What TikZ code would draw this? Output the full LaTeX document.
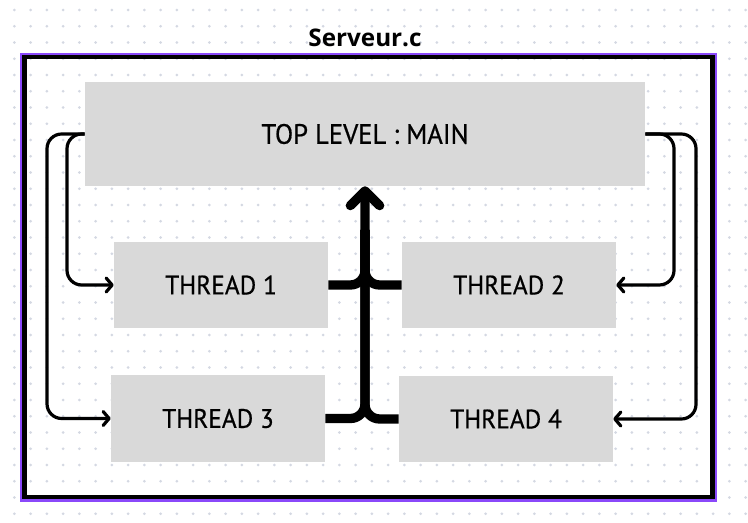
\documentclass[tikz,border=0pt]{standalone}
\usepackage{fontspec}
\setmainfont{PT Sans}[FakeBold=0.6,FakeStretch=0.95]
\newfontfamily\titlefont{Open Sans}
\usetikzlibrary{arrows.meta}

\definecolor{boxgray}{RGB}{217,217,217}
\definecolor{griddot}{RGB}{212,216,226}
\definecolor{selpurple}{RGB}{138,72,250}

\tikzset{
  box/.style={fill=boxgray,inner sep=0pt,minimum width=160.5pt,minimum height=64.5pt,
    font=\fontsize{20}{22}\selectfont},
  link/.style={line width=2.4pt,rounded corners=11pt,
    -{Straight Barb[round,length=4.5pt,width=10.5pt]}},
  bus/.style={line width=7pt,rounded corners=11pt},
}

\begin{document}
\begin{tikzpicture}[x=0.75pt,y=-0.75pt]

  \useasboundingbox (0,0) rectangle (748,523);

  % dotted background
  \foreach \i in {0,...,45}
    \foreach \j in {0,...,31}
      \fill [griddot] (14.3+16.25*\i,10+16.25*\j) circle [radius=1.1pt];

  % frame
  \draw [selpurple,line width=1.7pt] (21,54) rectangle (716.3,500.5);
  \draw [line width=3.3pt] (24.5,57) rectangle (712.5,496.7);
  \node [font=\titlefont\bfseries\fontsize{18.2}{20}\selectfont] (title) at (365,38) {Serveur.c};

  \node [box,minimum width=420pt,minimum height=78pt,font=\fontsize{21}{24}\selectfont] (main) at (365,134) {TOP LEVEL : MAIN};
  \node [box] (t1) at (221,285) {THREAD 1};
  \node [box] (t2) at (509,285) {THREAD 2};
  \node [box,minimum height=65pt] (t3) at (218,418.5) {THREAD 3};
  \node [box] (t4) at (506,419) {THREAD 4};

  \coordinate (leftIn) at (67,0);
  \coordinate (leftOut) at (47,0);
  \coordinate (rightIn) at (674,0);
  \coordinate (rightOut) at (696,0);
  \coordinate (stem) at (365,230);

  \draw [link] (main.west) -| (leftIn |- t1.west) -- (t1.west);
  \draw [link] (main.west) -| (leftOut |- t3.west) -- (t3.west);
  \draw [link] (main.east) -| (rightIn |- t2.east) -- (t2.east);
  \draw [link] (main.east) -| (rightOut |- t4.east) -- (t4.east);

  \draw [bus] (t1.east) -| (stem);
  \draw [bus] (t2.west) -| (stem);
  \draw [bus] (t4.west) -| (stem);
  \draw [bus,-{Straight Barb[round,length=11pt,width=22pt]}] (t3.east) -| (main.south);

\end{tikzpicture}
\end{document}
